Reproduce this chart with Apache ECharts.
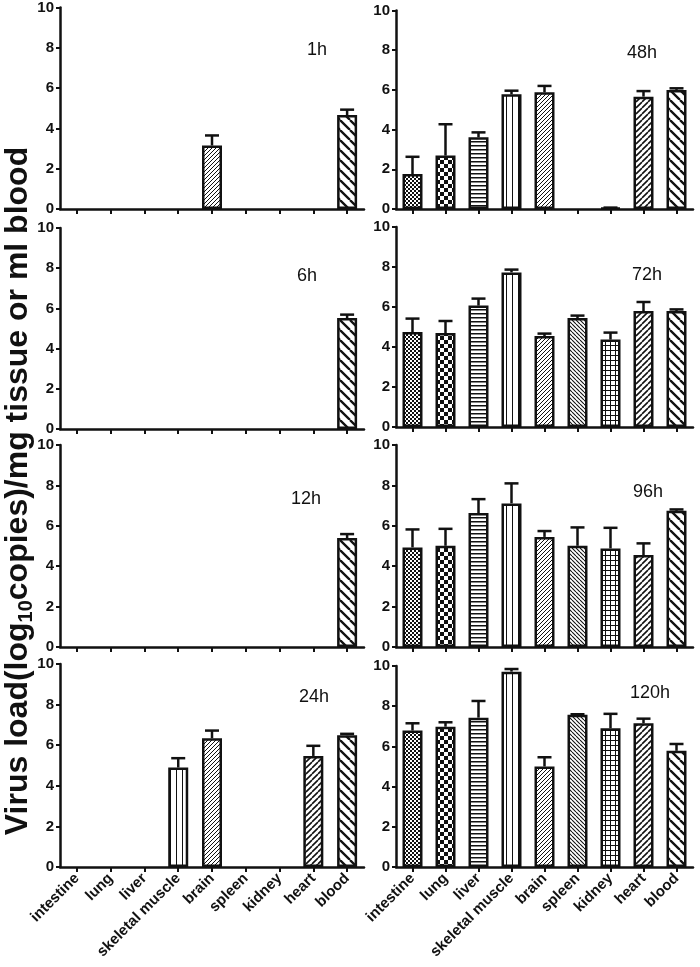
<!DOCTYPE html>
<html>
<head>
<meta charset="utf-8">
<script src="https://cdn.jsdelivr.net/npm/echarts@6/dist/echarts.min.js"></script>
<style>html,body{margin:0;padding:0;background:#fff;}#c{width:700px;height:967px;}</style>
</head>
<body>
<div id="c"></div>
<script>
// ---------- data ----------
const categories = ['intestine','lung','liver','skeletal muscle','brain','spleen','kidney','heart','blood'];
const panelLabels = ['1h','6h','12h','24h','48h','72h','96h','120h'];
const yTicks = [0,2,4,6,8,10];

const mean1h  = [0,0,0,0,3.15,0,0,0,4.66];
const sd1h    = [0,0,0,0,0.50,0,0,0,0.27];
const mean6h  = [0,0,0,0,0,0,0,0,5.52];
const sd6h    = [0,0,0,0,0,0,0,0,0.17];
const mean12h = [0,0,0,0,0,0,0,0,5.39];
const sd12h   = [0,0,0,0,0,0,0,0,0.20];
const mean24h = [0,0,0,4.90,6.34,0,0,5.47,6.49];
const sd24h   = [0,0,0,0.46,0.38,0,0,0.50,0.07];
const mean48h = [1.76,2.69,3.61,5.78,5.88,0,0.05,5.66,6.00];
const sd48h   = [0.87,1.58,0.25,0.18,0.32,0,0.02,0.28,0.08];
const mean72h = [4.75,4.70,6.07,7.73,4.55,5.45,4.37,5.80,5.80];
const sd72h   = [0.67,0.60,0.35,0.14,0.12,0.12,0.35,0.45,0.08];
const mean96h = [4.93,5.01,6.63,7.11,5.45,5.01,4.88,4.55,6.74];
const sd96h   = [0.89,0.84,0.69,0.99,0.29,0.91,1.02,0.58,0.07];
const mean120h= [6.79,6.98,7.43,9.72,5.00,7.57,6.90,7.15,5.78];
const sd120h  = [0.36,0.22,0.83,0.13,0.46,0.03,0.72,0.23,0.34];

const panelMeans = [mean1h, mean6h, mean12h, mean24h, mean48h, mean72h, mean96h, mean120h];
const panelSds   = [sd1h, sd6h, sd12h, sd24h, sd48h, sd72h, sd96h, sd120h];

// ---------- patterns ----------
function tile(w, h, draw) {
  const c = document.createElement('canvas');
  c.width = w; c.height = h;
  const x = c.getContext('2d');
  x.fillStyle = '#fff'; x.fillRect(0, 0, w, h);
  x.fillStyle = '#111'; x.strokeStyle = '#111';
  draw(x, w, h);
  return { image: c, repeat: 'repeat' };
}
function diag(x, s, lw, dir) {
  x.lineWidth = lw; x.beginPath();
  for (let k = -1; k <= 1; k++) {
    if (dir === '/') { x.moveTo(k*s, s); x.lineTo(k*s + s, 0); }
    else { x.moveTo(k*s, 0); x.lineTo(k*s + s, s); }
  }
  x.stroke();
}
const patterns = [
  tile(4,4,(x)=>{ x.fillRect(0,0,2,2); x.fillRect(2,2,2,2); }),            // intestine
  tile(8,8,(x)=>{ x.fillRect(0,0,4,4); x.fillRect(4,4,4,4); }),            // lung
  tile(4,4,(x)=>{ x.fillRect(0,1,4,1.5); }),                               // liver
  tile(6,6,(x)=>{ x.fillRect(2,0,1,6); }),                                 // skeletal muscle
  tile(4,4,(x)=>{ diag(x,4,1,'/'); }),                                     // brain
  tile(4,4,(x)=>{ diag(x,4,1.1,'\\'); }),                                  // spleen
  tile(5,5,(x)=>{ x.fillRect(0,0,5,1); x.fillRect(0,0,1,5); }),            // kidney
  tile(6,6,(x)=>{ diag(x,6,1.6,'/'); x.fillStyle='#fff'; x.fillRect(1,1,1.2,1.2); x.fillRect(4,4,1.2,1.2); }), // heart
  tile(10,10,(x)=>{ diag(x,10,2.3,'\\'); })                                // blood
];

// ---------- layout ----------
const FONT = 'Liberation Sans, Arial, sans-serif';
const leftCol  = { left: 60,  width: 304 };
const rightCol = { left: 396, width: 297 };
const leftRows  = [[6,203],[228,201],[445,202],[664,203]];
const rightRows = [[10.5,198.5],[227,200],[445,202],[666,201]];
const labelPos = [[317,50],[307,276],[306,499],[314,697],[642,53],[647,275],[648,492],[650,693]];

const grids = [], xAxes = [], yAxes = [], series = [], graphics = [];
for (let i = 0; i < 8; i++) {
  const col = i < 4 ? leftCol : rightCol;
  const row = i < 4 ? leftRows[i] : rightRows[i-4];
  const bottomRow = (i % 4) === 3;
  grids.push({ left: col.left, width: col.width, top: row[0], height: row[1] });
  xAxes.push({
    type: 'category', gridIndex: i, data: categories,
    axisLine: { lineStyle: { color: '#111', width: 2.5 } },
    axisTick: { show: true, alignWithLabel: true, length: 5, lineStyle: { color: '#111', width: 2 } },
    axisLabel: { show: bottomRow, rotate: 45, interval: 0, margin: 9, color: '#111',
                 fontWeight: 'bold', fontSize: 15, fontFamily: FONT },
    splitLine: { show: false }
  });
  yAxes.push({
    type: 'value', gridIndex: i, min: 0, max: 10, interval: 2,
    axisLine: { show: true, lineStyle: { color: '#111', width: 2.5 } },
    axisTick: { show: true, length: 4, lineStyle: { color: '#111', width: 2 } },
    axisLabel: { margin: 6, color: '#111', fontWeight: 'bold', fontSize: 15, fontFamily: FONT,
                 formatter: (v) => yTicks.includes(v) ? String(v) : '' },
    splitLine: { show: false }
  });
  const means = panelMeans[i], sds = panelSds[i];
  series.push({
    type: 'bar', xAxisIndex: i, yAxisIndex: i, barWidth: 20, z: 2,
    data: means.map((v, j) => ({ value: v, itemStyle: { color: patterns[j], borderColor: '#111', borderWidth: v > 0 ? 2.5 : 0 } }))
  });
  series.push({
    type: 'custom', xAxisIndex: i, yAxisIndex: i, z: 3,
    encode: { x: 0, y: 1 },
    data: means.map((v, j) => [j, v, sds[j]]),
    renderItem: function (params, api) {
      const j = api.value(0), m = api.value(1), s = api.value(2);
      if (!(s > 0)) return null;
      const p0 = api.coord([j, m]);
      const p1 = api.coord([j, m + s]);
      return { type: 'group', children: [
        { type: 'line', shape: { x1: p0[0], y1: p0[1], x2: p1[0], y2: p1[1] }, style: { stroke: '#111', lineWidth: 2.5 } },
        { type: 'line', shape: { x1: p1[0]-7, y1: p1[1], x2: p1[0]+7, y2: p1[1] }, style: { stroke: '#111', lineWidth: 2.5 } }
      ]};
    }
  });
  graphics.push({ type: 'text', x: labelPos[i][0], y: labelPos[i][1],
    style: { text: panelLabels[i], font: '18px ' + FONT, fill: '#111', align: 'center', verticalAlign: 'middle' } });
}
graphics.push({
  type: 'text', x: 18, y: 491, rotation: Math.PI / 2,
  style: {
    text: '{a|Virus load(log}{s|10}{a|copies)/mg tissue or ml blood}',
    align: 'center', verticalAlign: 'middle', fill: '#111',
    rich: {
      a: { fontFamily: FONT, fontWeight: 'bold', fontSize: 32, lineHeight: 37, fill: '#111' },
      s: { fontFamily: FONT, fontWeight: 'bold', fontSize: 20, lineHeight: 37, verticalAlign: 'bottom', fill: '#111' }
    }
  }
});

const chart = echarts.init(document.getElementById('c'), null, { renderer: 'canvas' });
chart.setOption({
  animation: false,
  backgroundColor: '#fff',
  grid: grids, xAxis: xAxes, yAxis: yAxes, series: series, graphic: graphics
});
</script>
</body>
</html>
